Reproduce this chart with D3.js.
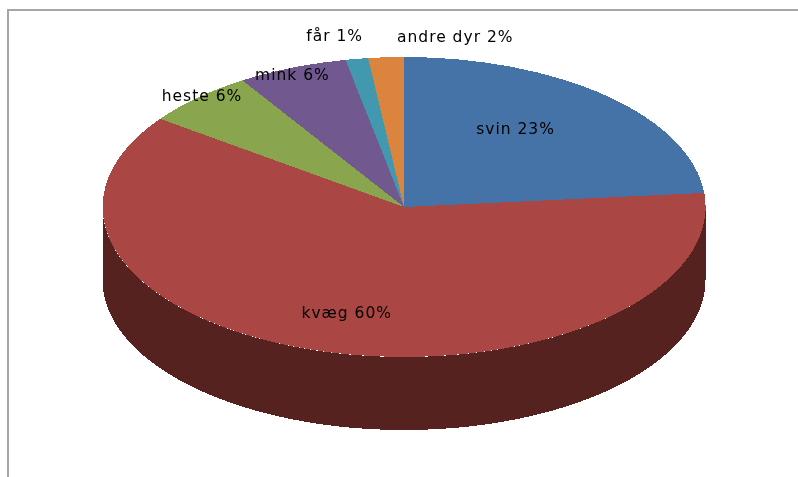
<!DOCTYPE html>
<html>
<head>
<meta charset="utf-8">
<script src="https://cdn.jsdelivr.net/npm/d3@7"></script>
<style>
  html, body { margin: 0; padding: 0; background: #fff; }
  svg { display: block; }
  text { font-family: "DejaVu Sans", sans-serif; font-size: 15.5px; letter-spacing: 1px; fill: #000; }
</style>
</head>
<body>
<svg></svg>
<script>
// slice names and the printed percentages
let names = ["svin", "kvæg", "heste", "mink", "får", "andre dyr"];
let printed = [23, 60, 6, 6, 1, 2];

// slice sizes (printed labels are rounded)
let shares = [23.5, 61.5, 6.0, 5.9, 1.2, 1.9];

let colors = ["#4572a7", "#aa4643", "#89a54e", "#71588f", "#4198af", "#db843d"];
let wallColor = "#552220";

// label spots, as fractions of the pie radius
let labelPos = [[0.37, -0.52], [-0.19, 0.71], [-0.67, -0.74], [-0.37, -0.88], [-0.23, -1.14], [0.17, -1.13]];

let width = 798,
  height = 477,
  cx = 404,
  cy = 207,
  rx = 301.5,
  ry = 150,
  depth = 73;

let svg = d3.select("svg")
  .attr("width", width)
  .attr("height", height);

// the reference is a soft upscaled bitmap, so the text gets a little blur
svg.append("filter")
  .attr("id", "soft")
  .append("feGaussianBlur")
  .attr("stdDeviation", 0.4);

// grey frame, only top and left are in view
svg.append("path")
  .attr("d", "M8,477V10H798")
  .attr("fill", "none")
  .attr("stroke", "#a6a6a6")
  .attr("stroke-width", 2);

let xScale = d3.scaleLinear().domain([-1, 1]).range([cx - rx, cx + rx]);
let yScale = d3.scaleLinear().domain([-1, 1]).range([cy - ry, cy + ry]);

let pie = d3.pie().sort(null).value(d => d);
let slices = pie(shares);

let chart = svg.append("g").attr("shape-rendering", "crispEdges");

// front wall of the pie: lower half of the rim pushed down by depth
let rim = d3.range(90, 271, 2).map(a => [Math.sin(a * Math.PI / 180), -Math.cos(a * Math.PI / 180)]);
let wall = d3.line()
  .x(d => xScale(d[0]))
  .y(d => yScale(d[1]) + d[2]);

chart.append("path")
  .attr("d", wall(rim.map(d => [d[0], d[1], depth]).concat(rim.slice().reverse().map(d => [d[0], d[1], 0]))) + "Z")
  .attr("fill", wallColor);

// top of the pie, unit arcs squashed into the ellipse
let arc = d3.arc().innerRadius(0).outerRadius(1);

chart.selectAll("path.slice")
  .data(slices)
  .enter()
  .append("path")
  .attr("class", "slice")
  .attr("d", arc)
  .attr("transform", "translate(" + cx + "," + cy + ") scale(" + rx + "," + ry + ")")
  .attr("fill", (d, i) => colors[i]);

svg.append("g")
  .attr("filter", "url(#soft)")
  .selectAll("text")
  .data(names)
  .enter()
  .append("text")
  .attr("x", (d, i) => xScale(labelPos[i][0]))
  .attr("y", (d, i) => yScale(labelPos[i][1]))
  .attr("text-anchor", "middle")
  .attr("dominant-baseline", "middle")
  .text((d, i) => d + " " + printed[i] + "%");
</script>
</body>
</html>
